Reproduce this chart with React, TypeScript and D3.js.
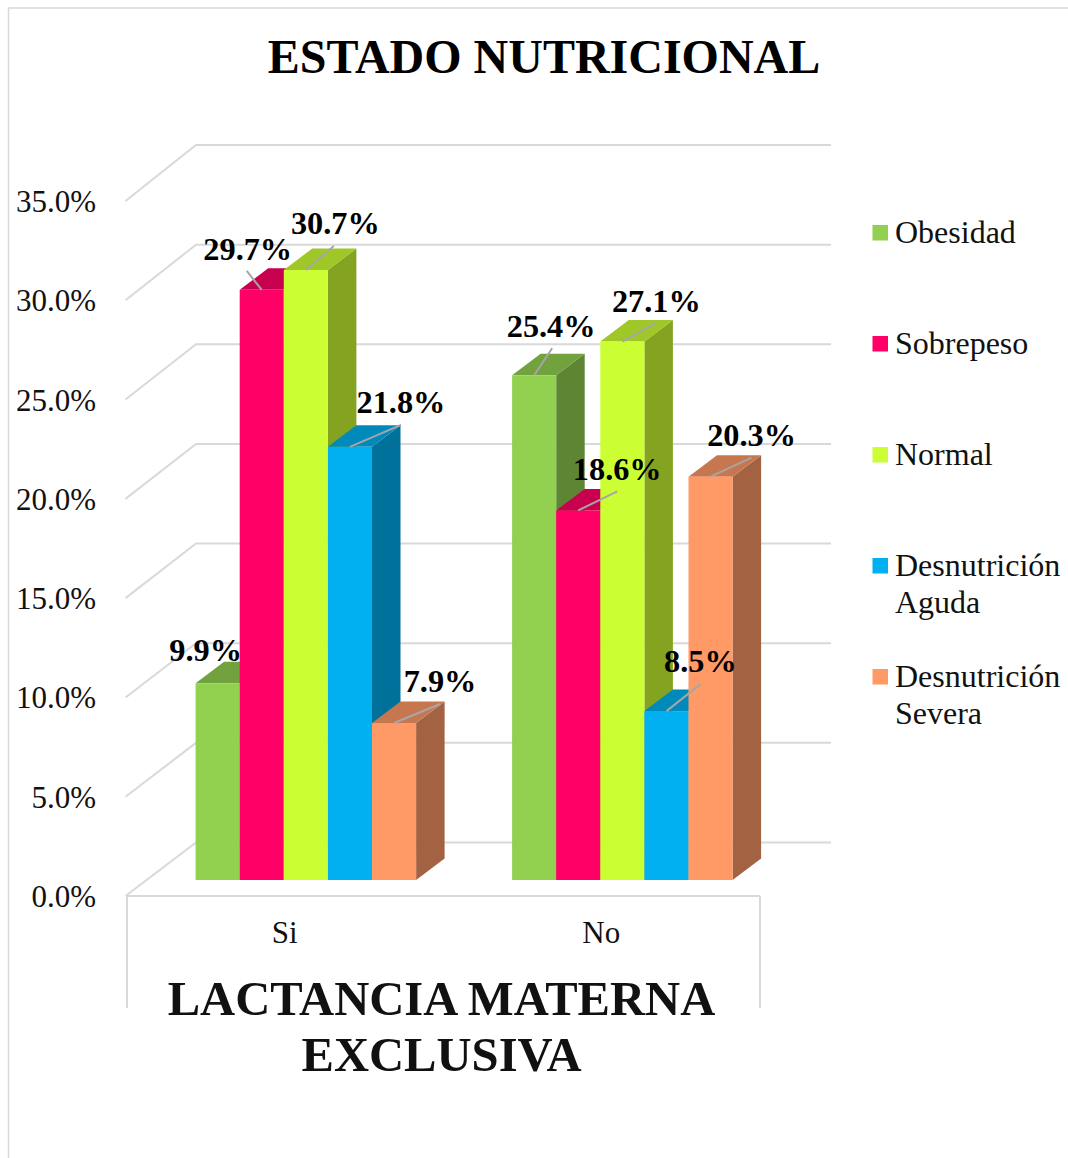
import React from "react";
import * as d3 from "d3";

const categories = ["Si", "No"];
const seriesNames = ["Obesidad", "Sobrepeso", "Normal", "Desnutrición Aguda", "Desnutrición Severa"];
const obesidad = [9.9, 25.4];
const sobrepeso = [29.7, 18.6];
const normal = [30.7, 27.1];
const aguda = [21.8, 8.5];
const severa = [7.9, 20.3];
const seriesValues = [obesidad, sobrepeso, normal, aguda, severa];
const seriesColors = ["#92D050", "#FF0066", "#CCFF33", "#00B0F0", "#FF9966"];
const ticks = [0, 5, 10, 15, 20, 25, 30, 35];
const titleText = "ESTADO NUTRICIONAL";
const axisTitleLines = ["LACTANCIA MATERNA", "EXCLUSIVA"];

const FONT = "'Liberation Serif', serif";
const W = 1068, H = 1158;
const depthX = 28.5, depthY = -21.5;
const barW = 44.1;

// scales: bar front plane, left axis labels, back wall
const yFront = d3.scaleLinear().domain([0, 35]).range([880, 880 - 35 * 19.87]);
const yAxis = d3.scaleLinear().domain([0, 35]).range([896, 201]);
const yBack = d3.scaleLinear().domain([0, 35]).range([842.5, 145]);
const xCat = d3.scaleBand<string>().domain(categories).range([127, 760]);
const xSeries = d3.scaleBand<number>().domain(d3.range(5)).range([-110.25, 110.25]);
const groupShift = 20.6;
const barX = (c: number, s: number) =>
  xCat(categories[c])! + xCat.bandwidth() / 2 + groupShift + xSeries(s)!;

// manual label layout, per series then category: leader tip offset and label anchor offset from bar top centre
const leaderTips = [
  [null, [18, -27]],
  [[-15, -19], [39, -19]],
  [[28, -24], [34, -19]],
  [[51, -22], [34, -27]],
  [[46, -19], [41, -19]],
];
const labelOffsets = [
  [[-12, -22], [17, -38]],
  [[-14, -30], [39, -30]],
  [[29.5, -36], [34, -30]],
  [[51, -34], [34, -39]],
  [[46, -31], [41, -31]],
];

const legendBaselines = [[243], [354], [465], [576, 613], [687, 724]];
const legendLines = [["Obesidad"], ["Sobrepeso"], ["Normal"], ["Desnutrición", "Aguda"], ["Desnutrición", "Severa"]];

const shade = (col: string, f: number) => {
  const c = d3.rgb(col);
  return d3.rgb(c.r * f, c.g * f, c.b * f).formatHex();
};
const pts = (p: number[][]) => p.map((q) => q.join(",")).join(" ");

export default function App() {
  const grid = "#d9d9d9";
  const bars: React.ReactNode[] = [];
  const labels: React.ReactNode[] = [];
  categories.forEach((_, c) => {
    seriesValues.forEach((vals, s) => {
      const v = vals[c];
      const x0 = barX(c, s);
      const x1 = x0 + barW;
      const yT = yFront(v);
      const yB = yFront(0);
      const col = seriesColors[s];
      bars.push(
        <g key={`${c}-${s}`}>
          <polygon points={pts([[x1, yB], [x1 + depthX, yB + depthY], [x1 + depthX, yT + depthY], [x1, yT]])} fill={shade(col, 0.64)} />
          <polygon points={pts([[x0, yT], [x0 + depthX, yT + depthY], [x1 + depthX, yT + depthY], [x1, yT]])} fill={shade(col, 0.78)} />
          <rect x={x0} y={yT} width={barW} height={yB - yT} fill={col} />
        </g>
      );
      const cx = x0 + barW / 2;
      const tip = leaderTips[s][c];
      const off = labelOffsets[s][c];
      labels.push(
        <g key={`l${c}-${s}`}>
          {tip && <line x1={cx} y1={yT} x2={cx + tip[0]} y2={yT + tip[1]} stroke="#a6a6a6" strokeWidth={2} />}
          <text x={cx + off[0]} y={yT + off[1]} textAnchor="middle" fontSize={32.3} fontWeight="bold" fill="#000">
            {v.toFixed(1)}%
          </text>
        </g>
      );
    });
  });

  return (
    <svg
      width={W}
      height={H}
      viewBox={`0 0 ${W} ${H}`}
      style={{ position: "absolute", left: 0, top: 0, display: "block", background: "#fff" }}
      fontFamily={FONT}
    >
      <path d={`M8.5,${H}V8H${W}`} fill="none" stroke={grid} strokeWidth={1.5} />
      <text x={544} y={73} textAnchor="middle" fontSize={48} fontWeight="bold" fill="#000">{titleText}</text>

      {ticks.map((t) => (
        <g key={t}>
          <polyline points={pts([[125.5, yAxis(t)], [196, yBack(t)], [831, yBack(t)]])} fill="none" stroke={grid} strokeWidth={2} />
          <text x={96} y={yAxis(t) + 11} textAnchor="end" fontSize={31} fill="#111">{t.toFixed(1)}%</text>
        </g>
      ))}
      <line x1={126} y1={896} x2={760} y2={896} stroke={grid} strokeWidth={2} />
      <line x1={127} y1={896} x2={127} y2={1008} stroke={grid} strokeWidth={2} />
      <line x1={760} y1={896} x2={760} y2={1008} stroke={grid} strokeWidth={2} />

      {bars}
      {labels}

      {categories.map((c) => (
        <text key={c} x={xCat(c)! + xCat.bandwidth() / 2 - 0.5} y={943} textAnchor="middle" fontSize={31} fill="#111">{c}</text>
      ))}
      {axisTitleLines.map((l, i) => (
        <text key={l} x={441.5} y={1015 + i * 56} textAnchor="middle" fontSize={48.6} fontWeight="bold" fill="#111">{l}</text>
      ))}

      {seriesNames.map((n, i) => (
        <g key={n}>
          <rect x={872.5} y={legendBaselines[i][0] - 18} width={15.5} height={15.5} fill={seriesColors[i]} />
          {legendLines[i].map((l, j) => (
            <text key={j} x={895} y={legendBaselines[i][j]} fontSize={32} fill="#111">{l}</text>
          ))}
        </g>
      ))}
    </svg>
  );
}
